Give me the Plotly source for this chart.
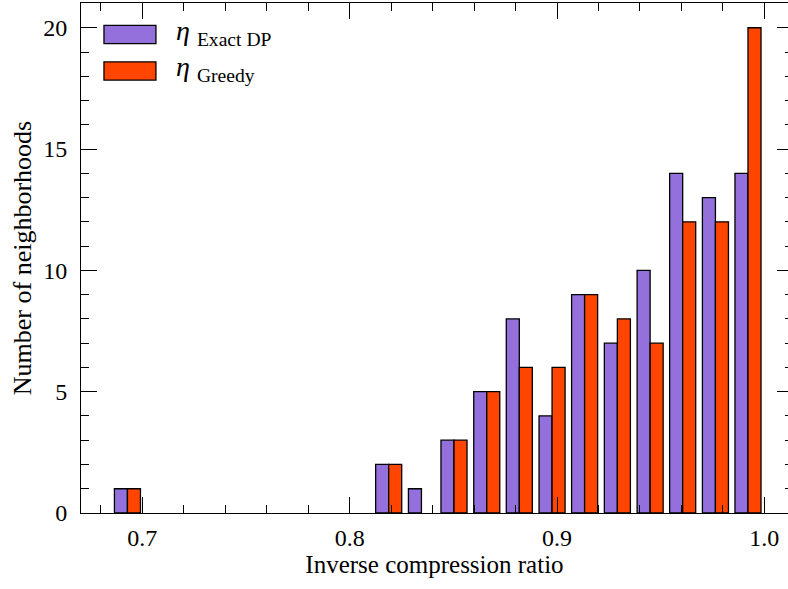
import plotly.graph_objects as go

# Histogram bin centres (inverse compression ratio)
bin_centers = [0.6928, 0.7085, 0.7243, 0.7400, 0.7558, 0.7716, 0.7873, 0.8031,
               0.8188, 0.8346, 0.8503, 0.8661, 0.8818, 0.8976, 0.9133, 0.9291,
               0.9449, 0.9606, 0.9764, 0.9921]
exact_dp = [1, 0, 0, 0, 0, 0, 0, 0, 2, 1, 3, 5, 8, 4, 9, 7, 10, 14, 13, 14]
greedy = [1, 0, 0, 0, 0, 0, 0, 0, 2, 0, 3, 5, 6, 6, 9, 8, 7, 12, 12, 20]

series_names = ["Exact DP", "Greedy"]
series_colors = ["#9370DB", "#FF4500"]

x_ticks = [0.7, 0.8, 0.9, 1.0]
x_ticklabels = ["0.7", "0.8", "0.9", "1.0"]
y_ticks = [0, 5, 10, 15, 20]
y_range = [0, 21.02]

FONT = "Liberation Serif, Times New Roman, Times, serif"

fig = go.Figure()
for vals, name, col in zip([exact_dp, greedy], series_names, series_colors):
    fig.add_trace(go.Bar(
        x=bin_centers, y=vals, name=name,
        marker=dict(color=col,
                    line=dict(color="black", width=[1.3 if v > 0 else 0 for v in vals])),
        showlegend=False,
    ))
# empty helper trace so the right-hand tick axis is drawn
fig.add_trace(go.Scatter(x=[], y=[], yaxis="y2", showlegend=False, hoverinfo="skip"))

# manual legend (wide swatches like the original)
legend_rows = [(0.9563, 0.9205), (0.8844, 0.8488)]
for (y1, y0), name, col in zip(legend_rows, series_names, series_colors):
    fig.add_shape(type="rect", xref="paper", yref="paper",
                  x0=0.0325, x1=0.106, y0=y0, y1=y1,
                  fillcolor=col, line=dict(color="black", width=1.3))
    fig.add_annotation(xref="paper", yref="paper", x=0.132, y=(y0 + y1) / 2 + 0.004,
                       xanchor="left", yanchor="middle", showarrow=False,
                       text="<i>η</i> <sub>" + name + "</sub>",
                       font=dict(family=FONT, size=28, color="black"))

tickfont = dict(family=FONT, size=24, color="black")

fig.update_layout(
    xaxis=dict(
        range=[0.6704, 1.0114],
        tickvals=x_ticks, ticktext=x_ticklabels,
        showline=True, linecolor="black", linewidth=1, mirror="ticks",
        ticks="inside", ticklen=16, tickcolor="black", tickwidth=1,
        ticklabelstandoff=3, tickfont=tickfont,
        showgrid=False, zeroline=False,
        minor=dict(ticks="inside", dtick=0.02, tick0=0, ticklen=8, tickcolor="black", showgrid=False),
        title=dict(text="Inverse compression ratio", font=dict(family=FONT, size=25, color="black"), standoff=4),
    ),
    yaxis=dict(
        range=y_range, tickvals=y_ticks,
        showline=True, linecolor="black", linewidth=1, mirror=False,
        ticks="inside", ticklen=16, tickcolor="black", tickwidth=1,
        ticklabelstandoff=8, tickfont=tickfont,
        showgrid=False, zeroline=False,
        minor=dict(ticks="inside", dtick=1, ticklen=8, tickcolor="black", showgrid=False),
        title=dict(text="Number of neighborhoods", font=dict(family=FONT, size=26, color="black"), standoff=4),
    ),
    yaxis2=dict(
        overlaying="y", side="right", range=y_range, tickvals=y_ticks,
        showline=False, showticklabels=False,
        ticks="inside", ticklen=11, tickcolor="black", tickwidth=1,
        showgrid=False, zeroline=False,
        minor=dict(ticks="inside", dtick=1, ticklen=3, tickcolor="black", showgrid=False),
    ),
    width=788, height=589,
    margin=dict(l=81, r=0, t=3, b=76),
    plot_bgcolor="white", paper_bgcolor="white",
    barmode="group", bargap=0.2, bargroupgap=0,
    font=dict(family=FONT, color="black"),
)

fig.write_html("out.html")
